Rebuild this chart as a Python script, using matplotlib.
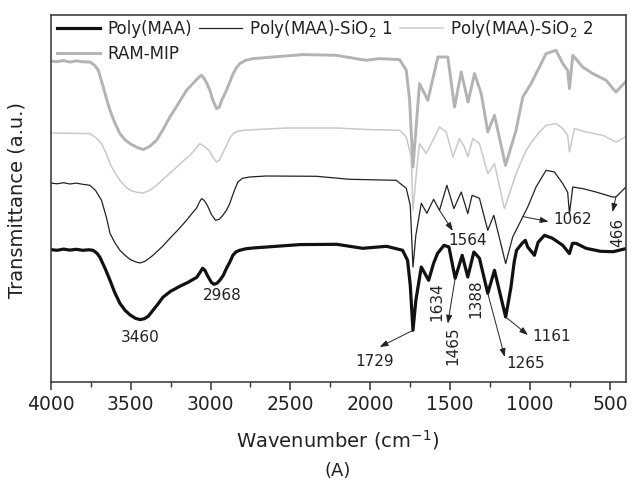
import numpy as np
import matplotlib
matplotlib.use("Agg")
import matplotlib.pyplot as plt

# ---------------- data (wavenumber cm-1, transmittance a.u.) ----------------
maa_wn = [4000, 3960, 3920, 3880, 3840, 3800, 3760, 3735, 3710, 3692, 3660, 3629, 3600, 3567,
          3535, 3504, 3470, 3442, 3415, 3390, 3360, 3330, 3298, 3250, 3192, 3140, 3086, 3065,
          3050, 3035, 3020, 2995, 2979, 2960, 2942, 2920, 2900, 2880, 2860, 2840, 2817, 2780,
          2735, 2442, 2211, 2048, 1898, 1798, 1767, 1750, 1733, 1715, 1681, 1635, 1604, 1579,
          1539, 1508, 1469, 1425, 1390, 1352, 1317, 1265, 1223, 1153, 1120, 1100, 1085, 1050,
          1030, 1015, 973, 950, 910, 860, 796, 754, 735, 713, 650, 560, 480, 400]
maa_t = [132.7, 132.0, 133.2, 132.2, 133.0, 132.0, 132.5, 132.0, 129.0, 125.0, 114.0, 102.0, 90.0, 79.0,
         72.0, 67.5, 64.0, 62.7, 63.5, 66.0, 72.0, 78.0, 85.0, 91.0, 96.0, 100.0, 105.0, 110.0,
         114.0, 112.0, 107.0, 100.0, 98.0, 99.0, 102.0, 107.0, 114.0, 120.0, 127.0, 130.5, 132.0, 133.5,
         134.3, 137.7, 138.0, 134.0, 136.0, 132.0, 122.0, 97.0, 52.0, 82.0, 115.3, 102.0, 119.0, 129.0,
         137.0, 135.3, 104.0, 127.0, 105.3, 130.3, 124.0, 89.0, 112.0, 65.3, 95.0, 120.0, 132.0, 139.0,
         142.0, 135.3, 127.0, 140.0, 147.0, 144.0, 137.0, 128.7, 139.0, 139.0, 134.0, 131.0, 130.6, 133.7]

sio1_wn = [4000, 3960, 3920, 3880, 3840, 3800, 3755, 3720, 3682, 3650, 3629, 3600, 3567, 3535,
           3504, 3470, 3442, 3410, 3380, 3360, 3300, 3254, 3200, 3150, 3110, 3088, 3070, 3056,
           3040, 3020, 2995, 2969, 2945, 2923, 2900, 2879, 2855, 2829, 2800, 2754, 2650, 2337,
           2129, 1838, 1775, 1750, 1733, 1715, 1681, 1646, 1604, 1567, 1521, 1477, 1431, 1390,
           1363, 1317, 1265, 1227, 1153, 1109, 1067, 1015, 963, 900, 848, 796, 765, 754,
           733, 671, 588, 484, 463, 440, 400]
sio1_t = [199.3, 198.5, 199.6, 198.3, 199.2, 198.0, 197.0, 192.0, 182.0, 164.0, 149.0, 140.0, 132.0, 127.0,
          123.0, 120.5, 119.3, 121.0, 124.5, 127.0, 136.0, 144.0, 153.0, 162.0, 170.0, 174.0, 180.0, 183.7,
          182.0, 177.0, 168.0, 162.0, 163.0, 167.0, 172.0, 179.0, 190.0, 200.3, 204.0, 205.3, 206.3, 206.0,
          203.0, 202.0, 194.0, 177.0, 115.3, 147.0, 179.0, 169.0, 183.0, 172.0, 197.0, 173.7, 190.3, 168.7,
          187.0, 184.0, 152.0, 167.0, 118.7, 145.3, 158.7, 175.3, 195.3, 212.0, 210.3, 198.7, 190.0, 168.7,
          195.3, 193.7, 190.3, 185.3, 185.3, 189.0, 195.3]

sio2_wn = [4000, 3755, 3720, 3682, 3650, 3629, 3600, 3567, 3535, 3504, 3460, 3421, 3380, 3338,
           3290, 3233, 3180, 3129, 3090, 3067, 3040, 3010, 2985, 2962, 2945, 2930, 2900, 2880,
           2858, 2830, 2796, 2525, 2213, 2004, 1817, 1775, 1744, 1733, 1710, 1692, 1650, 1608,
           1567, 1525, 1483, 1442, 1411, 1390, 1358, 1317, 1265, 1223, 1161, 1088, 1025, 983,
           942, 900, 838, 796, 765, 754, 723, 650, 546, 463, 404]
sio2_t = [249.3, 248.7, 245.0, 238.7, 228.0, 218.7, 210.0, 202.0, 196.0, 192.0, 190.0, 189.3, 192.0, 197.0,
          204.0, 212.0, 220.0, 227.0, 234.0, 238.7, 236.0, 232.0, 225.0, 220.3, 222.0, 227.0, 237.0, 244.0,
          248.7, 251.0, 252.0, 254.3, 254.3, 252.7, 252.0, 245.3, 225.3, 172.0, 212.0, 238.7, 228.7, 242.0,
          255.3, 250.3, 225.3, 243.7, 235.3, 225.3, 243.7, 238.7, 208.7, 218.7, 173.7, 208.7, 232.0, 242.0,
          250.3, 257.0, 258.7, 253.7, 247.0, 230.3, 253.7, 250.3, 247.0, 240.3, 245.3]

ram_wn = [4000, 3960, 3920, 3880, 3840, 3800, 3755, 3725, 3702, 3671, 3650, 3629, 3600, 3567,
          3535, 3504, 3460, 3421, 3380, 3338, 3300, 3254, 3200, 3150, 3100, 3070, 3056, 3040,
          3020, 3004, 2985, 2962, 2945, 2930, 2900, 2880, 2858, 2840, 2817, 2780, 2733, 2421,
          2213, 2027, 1942, 1817, 1775, 1754, 1733, 1710, 1692, 1640, 1577, 1515, 1473, 1431,
          1388, 1348, 1306, 1265, 1223, 1154, 1088, 1046, 994, 942, 900, 838, 796, 765,
          754, 733, 671, 608, 525, 463, 404]
ram_t = [321.3, 320.6, 321.8, 320.2, 321.4, 320.5, 320.3, 317.0, 312.0, 295.3, 283.0, 272.0, 260.0, 248.7,
         242.5, 238.7, 235.0, 232.7, 236.0, 242.0, 252.0, 265.3, 279.0, 292.0, 300.5, 305.5, 307.0, 304.0,
         298.0, 292.0, 282.0, 273.7, 275.0, 282.0, 292.0, 300.0, 308.7, 314.0, 318.7, 322.0, 323.7, 327.7,
         327.0, 322.0, 323.7, 322.7, 312.0, 282.0, 215.3, 262.0, 298.7, 282.0, 325.3, 325.3, 275.3, 310.3,
         280.3, 308.7, 288.7, 250.3, 267.0, 217.0, 252.0, 285.3, 298.7, 315.3, 328.7, 332.0, 318.7, 312.0,
         293.7, 327.0, 315.3, 308.7, 302.0, 290.3, 300.3]

series_labels = ["Poly(MAA)", "Poly(MAA)-SiO$_2$ 1", "Poly(MAA)-SiO$_2$ 2", "RAM-MIP"]

x_ticks = [4000, 3500, 3000, 2500, 2000, 1500, 1000, 500]

# peak labels: (text, series index, wavenumber of marked point)
peak_labels = ["3460", "2968", "1729", "1634", "1465", "1388", "1265", "1161", "1564", "1062", "466"]
peak_series = [0, 0, 0, 0, 0, 0, 0, 0, 1, 1, 1]
peak_wn = [3442, 2979, 1733, 1635, 1469, 1390, 1265, 1153, 1567, 1045, 463]

# ---------------- style / layout ----------------
W, H = 631, 482
fig = plt.figure(figsize=(W / 100, H / 100), dpi=100)
ax = fig.add_axes([50.7 / W, 1 - 382.3 / H, (626 - 50.7) / W, (382.3 - 15) / H])

plt.rcParams['font.family'] = ['DejaVu Sans']
txt_col = "#222222"
frame_col = "#333333"

data = [(maa_wn, maa_t), (sio1_wn, sio1_t), (sio2_wn, sio2_t), (ram_wn, ram_t)]
colors = ["#111111", "#222222", "#c9c9c9", "#b3b3b3"]
widths = [2.3, 0.9, 1.1, 2.1]
handles = []
for (wn, t), c, lw, lab in zip(data, colors, widths, series_labels):
    h, = ax.plot(wn, t, color=c, lw=lw, label=lab, solid_joinstyle="round")
    handles.append(h)

ax.set_xlim(4000, 400)
ax.set_ylim(0, 367.3)
ax.set_xticks(x_ticks)
ax.set_xticks(np.arange(4000, 399, -250), minor=True)
ax.set_yticks([])
ax.tick_params(axis="x", which="major", direction="out", length=6, width=1.1,
               labelsize=13.5, colors=frame_col, labelcolor=txt_col, pad=3.5)
ax.tick_params(axis="x", which="minor", direction="out", length=3.5, width=1.0, colors=frame_col)
for s in ax.spines.values():
    s.set_color(frame_col)
    s.set_linewidth(1.1)

# annotations
text_off = {"3460": (0, -17.4, 0), "2968": (8.3, -11, 0), "1729": (-38.3, -31, 0),
            "1634": (7.7, -21.7, 90), "1465": (-2.4, -67, 90), "1388": (8.4, -21.6, 90),
            "1265": (38, -70.3, 0), "1161": (45.7, -19.7, 0), "1564": (27.7, -30, 0),
            "1062": (50, -2.7, 0), "466": (1.6, -35.7, 90)}
arrow_end = {"1729": (-33.3, -16.7), "1465": (-7.4, -45.3), "1265": (17, -63.7),
             "1161": (22.3, -18), "1564": (13.3, -20.6), "1062": (25.6, -5), "466": (-3.4, -15)}
for lab, si, w in zip(peak_labels, peak_series, peak_wn):
    wn, t = data[si]
    yv = float(np.interp(w, wn[::-1], t[::-1]))
    dx, dy, rot = text_off[lab]
    ax.annotate(lab, xy=(w, yv), xytext=(dx, dy), textcoords="offset pixels",
                ha="center", va="center", rotation=rot, fontsize=11, color=txt_col)
    if lab in arrow_end:
        ex, ey = arrow_end[lab]
        ax.annotate("", xy=(w, yv), xytext=(ex, ey), textcoords="offset pixels",
                    arrowprops=dict(arrowstyle="<|-,head_length=0.5,head_width=0.18",
                                    color="#222222", lw=0.7, shrinkA=0, shrinkB=0))

# legend: row 1 = first three series, row 2 = RAM-MIP
order = [0, 3, 1, 2]
leg = ax.legend([handles[i] for i in order], [series_labels[i] for i in order], ncol=3,
                loc="upper left", bbox_to_anchor=(57 / W, 1 - 18 / H), bbox_transform=fig.transFigure,
                frameon=False, fontsize=12, handlelength=2.6, handletextpad=0.4,
                columnspacing=0.45, labelspacing=0.42, borderpad=0, borderaxespad=0)
for t in leg.get_texts():
    t.set_color(txt_col)

fig.text(338 / W, 1 - 440 / H, "Wavenumber (cm$^{-1}$)", ha="center", va="center",
         fontsize=14, color=txt_col)
fig.text(338 / W, 1 - 471 / H, "(A)", ha="center", va="center", fontsize=13, color=txt_col)
fig.text(17 / W, 1 - 200 / H, "Transmittance (a.u.)", ha="center", va="center",
         rotation=90, fontsize=14, color=txt_col)

fig.savefig("out.png", dpi=100)
